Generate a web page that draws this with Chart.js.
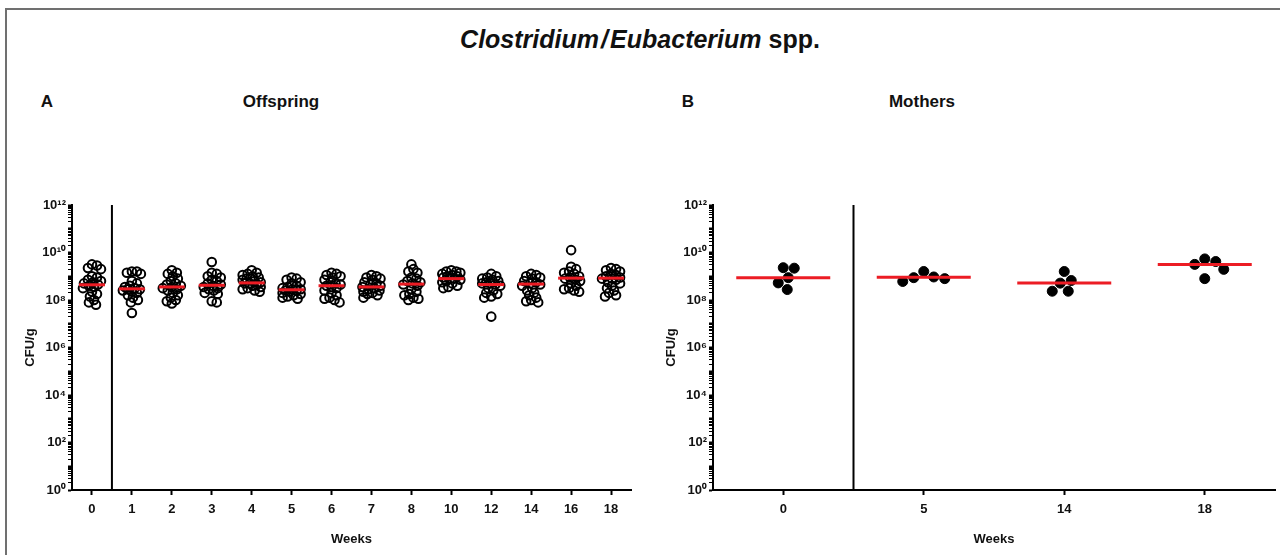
<!DOCTYPE html>
<html lang="en">
<head>
<meta charset="UTF-8">
<title>Clostridium/Eubacterium spp.</title>
<style>
    body {
        margin: 0;
        background: #fff;
        font-family: "Liberation Sans", Arial, sans-serif;
        color: #111;
    }
    #page {
        position: relative;
        width: 1280px;
        height: 555px;
        overflow: hidden;
    }
    .frame {
        position: absolute;
        left: 5px;
        top: 8px;
        width: 1290px;
        height: 560px;
        border: 2px solid #707070;
    }
    .title {
        position: absolute;
        top: 25px;
        left: 0;
        width: 1280px;
        text-align: center;
        font-weight: bold;
        font-size: 25px;
    }
    .lbl {
        position: absolute;
        top: 92px;
        font-weight: bold;
        font-size: 17px;
        transform: translateX(-50%);
    }
    canvas {
        position: absolute;
        top: 180px;
    }
</style>
<script src="https://cdn.jsdelivr.net/npm/chart.js"></script>
</head>
<body>
<div id="page">
    <div class="frame"></div>
    <div class="title"><i>Clostridium&#8202;/&#8202;Eubacterium</i> spp.</div>
    <div class="lbl" style="left:47px">A</div>
    <div class="lbl" style="left:281px">Offspring</div>
    <div class="lbl" style="left:688px">B</div>
    <div class="lbl" style="left:922px">Mothers</div>
    <canvas id="chartA" width="650" height="375" style="left:0"></canvas>
    <canvas id="chartB" width="639" height="375" style="left:641px"></canvas>
</div>

<script>
    // tick labels
    const weeksA = ['0', '1', '2', '3', '4', '5', '6', '7', '8', '10', '12', '14', '16', '18'];
    const weeksB = ['0', '5', '14', '18'];
    const yTickExps = [0, 2, 4, 6, 8, 10, 12];
    const yTickLabels = ['10\u2070', '10\u00b2', '10\u2074', '10\u2076', '10\u2078', '10\u00b9\u2070', '10\u00b9\u00b2'];

    // Offspring, log10(CFU/g) per week
    const offW0  = [9.5, 9.45, 9.35, 9.3, 9.0, 8.95, 8.85, 8.8, 8.75, 8.7, 8.65, 8.6, 8.55, 8.5, 8.35, 8.25, 8.15, 8.0, 7.9, 7.8];
    const offW1  = [9.2, 9.2, 9.15, 9.1, 8.8, 8.7, 8.6, 8.55, 8.5, 8.45, 8.45, 8.4, 8.35, 8.3, 8.2, 8.1, 8.0, 7.9, 7.45];
    const offW2  = [9.25, 9.15, 9.1, 9.0, 8.9, 8.8, 8.7, 8.65, 8.6, 8.55, 8.5, 8.45, 8.4, 8.3, 8.2, 8.1, 8.0, 7.95, 7.85];
    const offW3  = [9.6, 9.15, 9.1, 9.0, 8.95, 8.85, 8.8, 8.7, 8.65, 8.6, 8.55, 8.5, 8.45, 8.4, 8.3, 8.25, 7.95, 7.9];
    const offW4  = [9.25, 9.15, 9.1, 9.05, 9.0, 8.95, 8.9, 8.85, 8.8, 8.75, 8.7, 8.7, 8.65, 8.6, 8.55, 8.5, 8.45, 8.4, 8.35];
    const offW5  = [8.95, 8.9, 8.85, 8.75, 8.7, 8.6, 8.55, 8.5, 8.45, 8.45, 8.4, 8.4, 8.35, 8.3, 8.25, 8.2, 8.15, 8.1, 8.05];
    const offW6  = [9.15, 9.1, 9.05, 9.0, 8.95, 8.85, 8.75, 8.7, 8.65, 8.6, 8.55, 8.5, 8.4, 8.3, 8.2, 8.1, 8.05, 8.0, 7.9];
    const offW7  = [9.05, 9.0, 8.95, 8.9, 8.85, 8.75, 8.7, 8.65, 8.6, 8.55, 8.5, 8.45, 8.4, 8.35, 8.3, 8.25, 8.2, 8.1];
    const offW8  = [9.5, 9.3, 9.2, 9.15, 8.95, 8.9, 8.8, 8.75, 8.7, 8.65, 8.6, 8.45, 8.35, 8.25, 8.2, 8.1, 8.05, 8.0];
    const offW10 = [9.25, 9.2, 9.2, 9.15, 9.1, 9.05, 9.0, 9.0, 8.95, 8.9, 8.9, 8.85, 8.8, 8.75, 8.7, 8.6, 8.55, 8.5];
    const offW12 = [9.1, 9.0, 8.95, 8.9, 8.85, 8.8, 8.75, 8.7, 8.7, 8.65, 8.6, 8.5, 8.4, 8.3, 8.25, 8.15, 8.1, 7.3];
    const offW14 = [9.1, 9.05, 9.0, 8.95, 8.9, 8.8, 8.75, 8.7, 8.65, 8.6, 8.5, 8.4, 8.3, 8.2, 8.1, 8.0, 7.95, 7.9];
    const offW16 = [10.1, 9.4, 9.3, 9.2, 9.15, 9.1, 9.0, 8.95, 8.9, 8.85, 8.8, 8.7, 8.6, 8.5, 8.45, 8.4, 8.35];
    const offW18 = [9.35, 9.3, 9.25, 9.2, 9.1, 9.05, 9.0, 8.95, 8.9, 8.9, 8.85, 8.75, 8.7, 8.6, 8.5, 8.4, 8.3, 8.2, 8.15];
    const offspringMedian = [8.64, 8.47, 8.55, 8.62, 8.72, 8.43, 8.6, 8.55, 8.67, 8.9, 8.65, 8.67, 8.92, 8.92];

    // Mothers
    const motW0  = [9.34, 9.36, 8.94, 8.72, 8.44];
    const motW5  = [9.2, 8.94, 8.78, 8.9, 8.97];
    const motW14 = [9.2, 8.71, 8.82, 8.37, 8.37];
    const motW18 = [9.62, 9.5, 9.73, 9.29, 8.9];
    const mothersMedian = [8.94, 8.96, 8.72, 9.5];

    const offspring = [offW0, offW1, offW2, offW3, offW4, offW5, offW6, offW7, offW8, offW10, offW12, offW14, offW16, offW18];
    const mothers = [motW0, motW5, motW14, motW18];

    const PX_PER_DECADE = 285 / 12;

    // simple deterministic beeswarm: offsets in pixels, returned in category units
    function swarm(vals, pxPerCat, minDist, maxHalf) {
        const order = vals.map((v, i) => i).sort((a, b) => vals[b] - vals[a]);
        const placed = [];
        const offs = new Array(vals.length).fill(0);
        order.forEach(i => {
            const y = vals[i] * PX_PER_DECADE;
            let best = null, bestScore = -1;
            for (let k = 0; k <= 2 * maxHalf; k++) {
                const cand = k === 0 ? 0 : (k % 2 ? 1 : -1) * Math.ceil(k / 2);
                let d = Infinity;
                placed.forEach(p => { d = Math.min(d, Math.hypot(p.x - cand, p.y - y)); });
                if (d >= minDist) { best = cand; break; }
                if (d > bestScore) { bestScore = d; best = cand; }
            }
            placed.push({ x: best, y: y });
            offs[i] = best / pxPerCat;
        });
        return offs;
    }

    const isPow10 = v => Math.abs(Math.log10(v) - Math.round(Math.log10(v))) < 1e-9;

    const dividerPlugin = {
        id: 'divider',
        beforeDatasetsDraw(chart, args, opts) {
            const ctx = chart.ctx;
            const x = chart.scales.x.getPixelForValue(opts.after + 0.5);
            ctx.save();
            ctx.strokeStyle = '#000';
            ctx.lineWidth = 2;
            ctx.beginPath();
            ctx.moveTo(x, chart.chartArea.top);
            ctx.lineTo(x, chart.chartArea.bottom);
            ctx.stroke();
            ctx.restore();
        }
    };

    function makePanel(id, cats, groups, medians, o) {
        const pxPerCat = o.plotWidth / cats.length;
        const pts = [];
        groups.forEach((g, i) => {
            const offs = swarm(g, pxPerCat, o.minDist, o.maxHalf);
            g.forEach((v, j) => pts.push({ x: i + offs[j], y: Math.pow(10, v) }));
        });
        const meds = medians.map((m, i) => ({ x: i, y: Math.pow(10, m) }));
        const tickFont = { family: 'Liberation Sans, Arial, sans-serif', size: 13, weight: 'bold' };

        return new Chart(document.getElementById(id), {
            type: 'scatter',
            data: {
                datasets: [{
                    data: meds,
                    pointStyle: 'line',
                    radius: o.medianHalf,
                    borderColor: '#ec1c24',
                    borderWidth: 3,
                    clip: false,
                    order: 0
                }, {
                    data: pts,
                    pointStyle: 'circle',
                    radius: o.radius,
                    borderWidth: o.border,
                    borderColor: '#000',
                    backgroundColor: o.fill,
                    clip: false,
                    order: 1
                }]
            },
            options: {
                responsive: false,
                animation: false,
                events: [],
                layout: { autoPadding: false, padding: { top: 25, right: o.padRight, left: 0, bottom: 0 } },
                plugins: {
                    legend: { display: false },
                    tooltip: { enabled: false },
                    divider: { after: 0 }
                },
                scales: {
                    x: {
                        type: 'linear',
                        min: -0.5,
                        max: cats.length - 0.5,
                        afterBuildTicks: s => { s.ticks = cats.map((c, i) => ({ value: i })); },
                        afterFit: s => { s.height = 65; },
                        ticks: {
                            autoSkip: false,
                            maxRotation: 0,
                            padding: 7,
                            color: '#111',
                            font: tickFont,
                            callback: (v, i) => cats[i]
                        },
                        grid: { drawOnChartArea: false, tickLength: 5, tickWidth: 2, tickColor: '#000' },
                        border: { color: '#000', width: 2 },
                        title: { display: true, text: 'Weeks', color: '#111', font: tickFont, padding: { top: 0, bottom: 8 } }
                    },
                    y: {
                        type: 'logarithmic',
                        min: 1,
                        max: 1e12,
                        afterBuildTicks: s => {
                            const t = [];
                            for (let e = 0; e < 12; e++) {
                                for (let k = 1; k <= 9; k++) t.push({ value: k * Math.pow(10, e) });
                            }
                            t.push({ value: 1e12 });
                            s.ticks = t;
                        },
                        afterFit: s => { s.width = 72; },
                        ticks: {
                            autoSkip: false,
                            padding: 2,
                            color: '#111',
                            font: tickFont,
                            callback: v => {
                                if (!isPow10(v)) return '';
                                const k = yTickExps.indexOf(Math.round(Math.log10(v)));
                                return k >= 0 ? yTickLabels[k] : '';
                            }
                        },
                        grid: {
                            drawOnChartArea: false,
                            tickLength: 4,
                            tickColor: '#000',
                            tickWidth: c => (c.tick && isPow10(c.tick.value)) ? 2 : 1
                        },
                        border: { color: '#000', width: 2 },
                        title: { display: true, text: 'CFU/g', color: '#111', font: tickFont, padding: { top: 23, bottom: 0 } }
                    }
                }
            },
            plugins: [dividerPlugin]
        });
    }

    makePanel('chartA', weeksA, offspring, offspringMedian, {
        plotWidth: 559, padRight: 19, radius: 4.3, border: 2, fill: 'rgba(0,0,0,0)',
        minDist: 5, maxHalf: 9, medianHalf: 13
    });
    makePanel('chartB', weeksB, mothers, mothersMedian, {
        plotWidth: 562, padRight: 5, radius: 5, border: 1, fill: '#000',
        minDist: 11, maxHalf: 26, medianHalf: 47
    });
</script>
</body>
</html>
